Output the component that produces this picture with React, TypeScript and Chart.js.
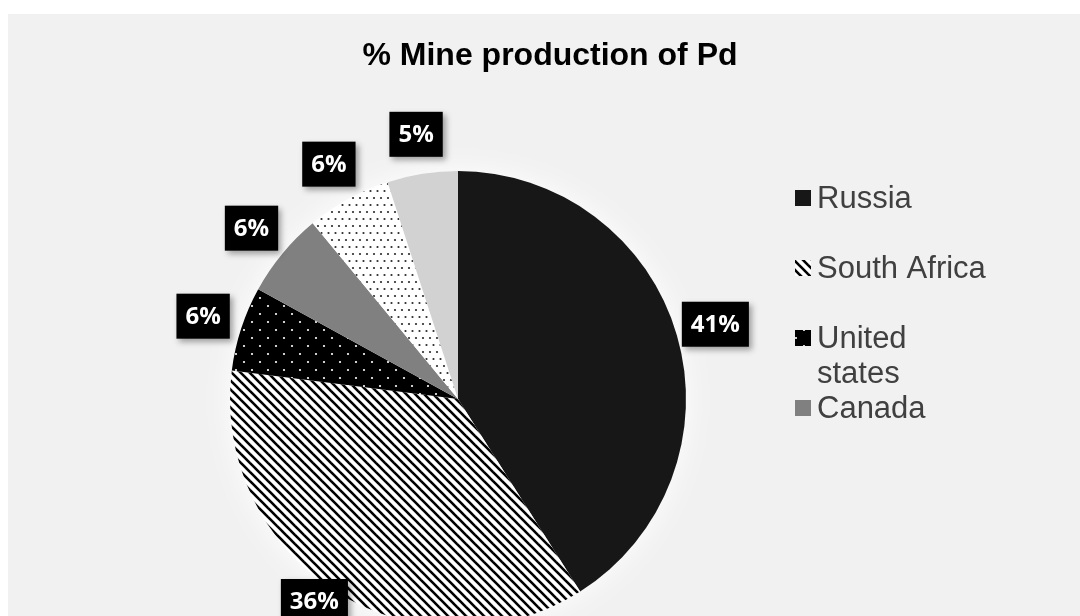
import React, { useEffect, useRef } from 'react';
import { Chart, registerables } from 'chart.js';

Chart.register(...registerables);

// ---- data ----
const chartTitle = '% Mine production of Pd';
const countries = ['Russia', 'South Africa', 'United states', 'Canada', 'Zimbabwe', 'Others'];
const legendLines = [['Russia'], ['South Africa'], ['United', 'states'], ['Canada'], ['Zimbabwe'], ['Others']];
const shares = [41, 36, 6, 6, 6, 5];
const shareLabels = ['41%', '36%', '6%', '6%', '6%', '5%'];
const legendVisibleCount = 4;

// ---- patterns ----
function makeTile(size: number, draw: (c: CanvasRenderingContext2D) => void): CanvasPattern | string {
  const cv = document.createElement('canvas');
  cv.width = size;
  cv.height = size;
  const c = cv.getContext('2d');
  if (!c) return '#000';
  draw(c);
  const p = c.createPattern(cv, 'repeat');
  return p || '#000';
}

function stripesPattern() {
  const s = 9;
  return makeTile(s, (c) => {
    c.fillStyle = '#ffffff';
    c.fillRect(0, 0, s, s);
    c.strokeStyle = '#000000';
    c.lineWidth = 2.6;
    for (const k of [-s, 0, s]) {
      c.beginPath();
      c.moveTo(k - 1, -1);
      c.lineTo(k + s + 1, s + 1);
      c.stroke();
    }
  });
}

function dotsPattern(bg: string, dot: string, size: number, pts: number[][], r: number) {
  return makeTile(size, (c) => {
    c.fillStyle = bg;
    c.fillRect(0, 0, size, size);
    c.fillStyle = dot;
    for (const [x, y] of pts) {
      c.beginPath();
      c.arc(x, y, r, 0, Math.PI * 2);
      c.fill();
    }
  });
}

const overlayPlugin = {
  id: 'overlay',
  beforeDatasetsDraw(chart: any) {
    const meta = chart.getDatasetMeta(0);
    const arc = meta.data[0];
    if (!arc) return;
    const ctx = chart.ctx;
    ctx.save();
    ctx.shadowColor = 'rgba(255,255,255,0.95)';
    ctx.shadowBlur = 28;
    ctx.fillStyle = '#ffffff';
    ctx.beginPath();
    ctx.arc(arc.x, arc.y, arc.outerRadius, 0, Math.PI * 2);
    ctx.fill();
    ctx.restore();
  },
  afterDraw(chart: any) {
    const ctx: CanvasRenderingContext2D = chart.ctx;
    const ds = chart.data.datasets[0];
    // title
    ctx.save();
    ctx.font = 'bold 32px "Liberation Sans", Arial, sans-serif';
    ctx.fillStyle = '#000000';
    ctx.textAlign = 'center';
    ctx.textBaseline = 'alphabetic';
    ctx.fillText(chartTitle, chart.width / 2, 51);
    ctx.restore();

    // data labels (kept inside the plot frame like the original)
    const maxBottom = 610;
    const meta = chart.getDatasetMeta(0);
    meta.data.forEach((arc: any, i: number) => {
      const mid = (arc.startAngle + arc.endAngle) / 2;
      const d = arc.outerRadius + 40;
      const cx = arc.x + Math.cos(mid) * d;
      const h = 45;
      let cy = arc.y + Math.sin(mid) * d;
      if (cy + h / 2 > maxBottom) cy = maxBottom - h / 2;
      const text = shareLabels[i];
      ctx.save();
      ctx.font = 'bold 24px "Open Sans", "DejaVu Sans", sans-serif';
      const w = ctx.measureText(text).width + 18;
      ctx.shadowColor = 'rgba(0,0,0,0.35)';
      ctx.shadowBlur = 6;
      ctx.shadowOffsetX = 3;
      ctx.shadowOffsetY = 3;
      ctx.fillStyle = '#000000';
      ctx.fillRect(cx - w / 2, cy - h / 2, w, h);
      ctx.shadowColor = 'transparent';
      ctx.fillStyle = '#ffffff';
      ctx.textAlign = 'center';
      ctx.textBaseline = 'middle';
      ctx.fillText(text, cx, cy + 1);
      ctx.restore();
    });

    // legend
    const lineH = 35;
    const x0 = 787;
    let base = 194;
    ctx.save();
    ctx.font = '31px "Liberation Sans", Arial, sans-serif';
    ctx.textAlign = 'left';
    ctx.textBaseline = 'alphabetic';
    for (let i = 0; i < legendVisibleCount; i++) {
      ctx.fillStyle = ds.backgroundColor[i];
      ctx.fillRect(x0, base - 18, 16, 16);
      ctx.fillStyle = '#404040';
      legendLines[i].forEach((ln, j) => {
        ctx.fillText(ln, x0 + 22, base + j * lineH);
      });
      base += Math.max(2, legendLines[i].length) * lineH;
    }
    ctx.restore();
  },
};

export default function App() {
  const ref = useRef<HTMLCanvasElement | null>(null);

  useEffect(() => {
    const canvas = ref.current;
    if (!canvas) return;
    const colors = [
      '#171717',
      stripesPattern(),
      dotsPattern('#000000', '#ffffff', 16, [[4, 4], [12, 12]], 1.1),
      '#808080',
      dotsPattern('#ffffff', '#2a2a2a', 14, [[2, 2], [9, 2], [5.5, 9], [12.5, 9]], 1.1),
      '#d2d2d2',
    ];
    const chart = new Chart(canvas, {
      type: 'pie',
      data: {
        labels: countries,
        datasets: [
          {
            data: shares,
            backgroundColor: colors as any,
            borderWidth: 0,
            hoverOffset: 0,
            offset: 0,
          },
        ],
      },
      options: {
        responsive: false,
        animation: false,
        events: [],
        radius: 228,
        layout: { padding: { left: 222, right: 406, top: 157, bottom: 87 } },
        plugins: {
          legend: { display: false },
          title: { display: false },
          tooltip: { enabled: false },
        },
      } as any,
      plugins: [overlayPlugin],
    });
    return () => chart.destroy();
  }, []);

  return (
    <div
      style={{
        position: 'fixed',
        left: 0,
        top: 0,
        width: 1080,
        height: 616,
        overflow: 'hidden',
        background: '#ffffff',
      }}
    >
      <canvas
        ref={ref}
        width={1084}
        height={700}
        style={{ position: 'absolute', left: 8, top: 14, background: '#f1f1f1', display: 'block' }}
      />
    </div>
  );
}
